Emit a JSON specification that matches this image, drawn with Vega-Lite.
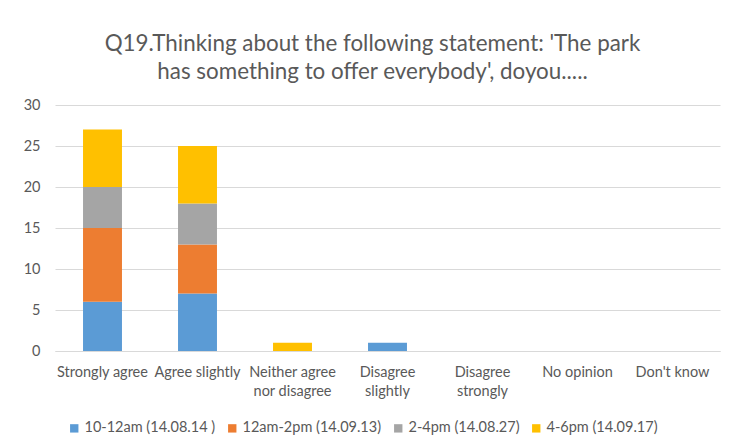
{
  "$schema": "https://vega.github.io/schema/vega-lite/v6.json",
  "width": 665,
  "height": 246,
  "autosize": {"type": "none"},
  "padding": {"left": 55, "top": 105, "right": 22, "bottom": 95},
  "background": "white",
  "title": {
    "text": ["Q19.Thinking about the following statement:  'The park", "has something to offer everybody', doyou....."],
    "font": "Lato",
    "fontSize": 22.4,
    "fontWeight": "normal",
    "color": "#595959",
    "anchor": "middle",
    "dx": -15,
    "offset": 14,
    "lineHeight": 28
  },
  "config": {
    "view": {"stroke": null},
    "font": "Lato"
  },
  "data": {
    "values": [
      {"category": "Strongly agree", "series": "10-12am (14.08.14 )", "count": 6},
      {"category": "Strongly agree", "series": "12am-2pm (14.09.13)", "count": 9},
      {"category": "Strongly agree", "series": "2-4pm (14.08.27)", "count": 5},
      {"category": "Strongly agree", "series": "4-6pm (14.09.17)", "count": 7},
      {"category": "Agree slightly", "series": "10-12am (14.08.14 )", "count": 7},
      {"category": "Agree slightly", "series": "12am-2pm (14.09.13)", "count": 6},
      {"category": "Agree slightly", "series": "2-4pm (14.08.27)", "count": 5},
      {"category": "Agree slightly", "series": "4-6pm (14.09.17)", "count": 7},
      {"category": "Neither agree nor disagree", "series": "4-6pm (14.09.17)", "count": 1},
      {"category": "Disagree slightly", "series": "10-12am (14.08.14 )", "count": 1}
    ]
  },
  "mark": {"type": "bar"},
  "encoding": {
    "x": {
      "field": "category",
      "type": "nominal",
      "sort": null,
      "scale": {
        "domain": ["Strongly agree", "Agree slightly", "Neither agree nor disagree", "Disagree slightly", "Disagree strongly", "No opinion", "Don't know"],
        "paddingInner": 0.59,
        "paddingOuter": 0.295
      },
      "axis": {
        "title": null,
        "labelAngle": 0,
        "labelFontSize": 14.5,
        "labelColor": "#595959",
        "labelPadding": 14,
        "labelLineHeight": 19,
        "ticks": false,
        "domainColor": "#D9D9D9",
        "labelExpr": "datum.label == 'Neither agree nor disagree' ? ['Neither agree', 'nor disagree'] : datum.label == 'Disagree slightly' ? ['Disagree', 'slightly'] : datum.label == 'Disagree strongly' ? ['Disagree', 'strongly'] : datum.label"
      }
    },
    "y": {
      "field": "count",
      "type": "quantitative",
      "stack": "zero",
      "scale": {"domain": [0, 30]},
      "axis": {
        "title": null,
        "values": [0, 5, 10, 15, 20, 25, 30],
        "labelFontSize": 14.5,
        "labelColor": "#595959",
        "labelPadding": 15,
        "ticks": false,
        "domain": false,
        "gridColor": "#D9D9D9"
      }
    },
    "color": {
      "field": "series",
      "type": "nominal",
      "scale": {
        "domain": ["10-12am (14.08.14 )", "12am-2pm (14.09.13)", "2-4pm (14.08.27)", "4-6pm (14.09.17)"],
        "range": ["#5B9BD5", "#ED7D31", "#A5A5A5", "#FFC000"]
      },
      "legend": {
        "title": null,
        "orient": "none",
        "direction": "horizontal",
        "legendX": 12,
        "legendY": 316,
        "symbolType": "square",
        "symbolSize": 70,
        "symbolStrokeWidth": 0,
        "labelFontSize": 14.5,
        "labelColor": "#595959",
        "labelOffset": 3,
        "columnPadding": 9
      }
    },
    "order": {"field": "series", "sort": "ascending"}
  }
}
